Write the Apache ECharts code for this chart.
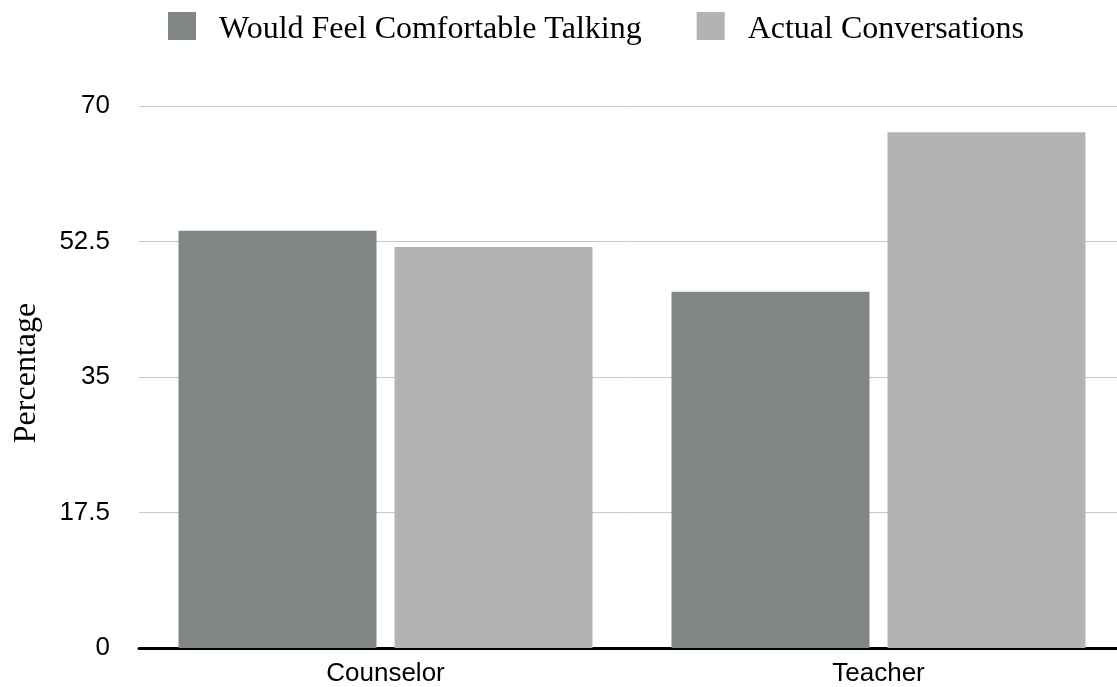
<!DOCTYPE html>
<html>
<head>
<meta charset="utf-8">
<script src="https://cdn.jsdelivr.net/npm/echarts@6/dist/echarts.min.js"></script>
<style>
  html, body { margin: 0; padding: 0; background: #ffffff; }
  #chart { width: 1117px; height: 687px; }
</style>
</head>
<body>
<div id="chart"></div>
<script>
// Who students talk to: stated comfort vs. actual conversations
const categories = ['Counselor', 'Teacher'];
const seriesNames = ['Would Feel Comfortable Talking', 'Actual Conversations'];
const comfortable = [53.9, 46.0];
const actual = [51.8, 66.6];
const yTicks = { min: 0, max: 70, interval: 17.5 };

const colors = ['#818784', '#b3b3b3'];

const chart = echarts.init(document.getElementById('chart'), null, { renderer: 'canvas' });

chart.setOption({
  backgroundColor: '#ffffff',
  animation: false,
  color: colors,
  legend: {
    top: 7,
    left: 163,
    itemWidth: 28,
    itemHeight: 28,
    itemGap: 55,
    icon: 'rect',
    formatter: '{lbl|{name}}',
    textStyle: {
      fontFamily: '"Liberation Serif", "Times New Roman", serif',
      fontSize: 32,
      color: '#000000',
      rich: {
        lbl: {
          fontFamily: '"Liberation Serif", "Times New Roman", serif',
          fontSize: 32,
          color: '#000000',
          padding: [8, 0, 0, 18]
        }
      }
    },
    data: seriesNames
  },
  grid: {
    left: 139,
    width: 986,
    top: 106,
    bottom: 39,
    containLabel: false,
    outerBoundsMode: 'none'
  },
  xAxis: {
    type: 'category',
    data: categories,
    axisTick: { show: false },
    axisLine: { show: true, lineStyle: { color: '#000000', width: 3 } },
    axisLabel: {
      margin: 13,
      fontFamily: '"Liberation Sans", Arial, Helvetica, sans-serif',
      fontSize: 26,
      color: '#000000'
    }
  },
  yAxis: {
    type: 'value',
    min: yTicks.min,
    max: yTicks.max,
    interval: yTicks.interval,
    name: 'Percentage',
    nameLocation: 'middle',
    nameRotate: 90,
    nameGap: 96,
    nameTextStyle: {
      fontFamily: '"Liberation Serif", "Times New Roman", serif',
      fontSize: 32,
      color: '#000000',
      padding: [0, 0, 0, 8]
    },
    axisLine: { show: false },
    axisTick: { show: false },
    axisLabel: {
      margin: 29,
      fontFamily: '"Liberation Sans", Arial, Helvetica, sans-serif',
      fontSize: 26,
      color: '#000000'
    },
    splitLine: { show: true, lineStyle: { color: '#c8c8c8', width: 1 } }
  },
  series: [
    {
      name: seriesNames[0],
      type: 'bar',
      data: comfortable,
      barWidth: 198,
      barGap: '9.1%',
      itemStyle: { color: colors[0] }
    },
    {
      name: seriesNames[1],
      type: 'bar',
      data: actual,
      barWidth: 198,
      barGap: '9.1%',
      itemStyle: { color: colors[1] }
    }
  ]
});
</script>
</body>
</html>
